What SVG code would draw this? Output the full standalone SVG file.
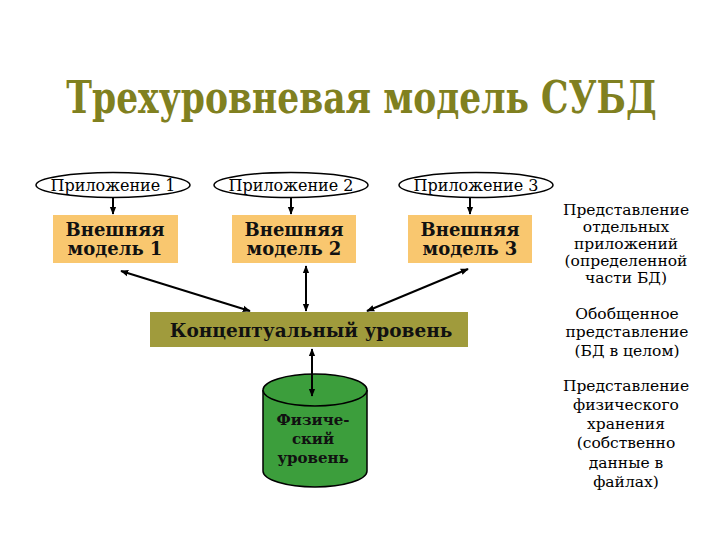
<svg xmlns="http://www.w3.org/2000/svg" width="720" height="540" viewBox="0 0 720 540">
<defs>
<marker id="ah" viewBox="0 0 10 10" refX="9" refY="5" markerWidth="4" markerHeight="4" orient="auto-start-reverse" markerUnits="strokeWidth">
<path d="M0,1 L10,5 L0,9 z" fill="#000"/>
</marker>
<style>
text{font-family:"DejaVu Serif","Noto Serif","Liberation Serif",serif}
.app{fill:#fff;stroke:#000;stroke-width:1.5}
.apptxt{font-size:16px;fill:#000;text-anchor:middle}
.ext{fill:#F9C76F}
.bold{font-weight:bold;fill:#111;text-anchor:middle}
.note{font-size:15.5px;fill:#000;text-anchor:middle}
.con line{stroke:#000;stroke-width:2}
</style>
</defs>
<rect width="720" height="540" fill="#fff"/>
<text transform="translate(361.5 113) scale(0.785 1)" x="0" y="0" font-weight="bold" font-size="44" fill="#808020" text-anchor="middle">Трехуровневая модель СУБД</text>

<g id="app1"><ellipse class="app" cx="113" cy="185" rx="77" ry="12.5"/><text class="apptxt" x="113" y="191">Приложение 1</text></g>
<g id="app2"><ellipse class="app" cx="291" cy="185" rx="77" ry="12.5"/><text class="apptxt" x="291" y="191">Приложение 2</text></g>
<g id="app3"><ellipse class="app" cx="476" cy="185" rx="77" ry="12.5"/><text class="apptxt" x="476" y="191">Приложение 3</text></g>

<g id="ext1"><rect class="ext" x="53" y="215" width="125" height="48"/><text class="bold" font-size="18" x="115" y="236">Внешняя</text><text class="bold" font-size="18" x="115" y="255">модель 1</text></g>
<g id="ext2"><rect class="ext" x="232" y="215" width="124" height="48"/><text class="bold" font-size="18" x="294" y="236">Внешняя</text><text class="bold" font-size="18" x="294" y="255">модель 2</text></g>
<g id="ext3"><rect class="ext" x="408" y="215" width="124" height="48"/><text class="bold" font-size="18" x="470" y="236">Внешняя</text><text class="bold" font-size="18" x="470" y="255">модель 3</text></g>

<g id="conceptual"><rect x="150" y="312" width="318" height="35" fill="#A09B3C"/><text class="bold" font-size="18.5" x="311" y="337">Концептуальный уровень</text></g>

<g id="physical">
<path d="M263,390 L263,471 A52,16 0 0 0 367,471 L367,390" fill="#3C9E3C" stroke="#000" stroke-width="1.5"/>
<ellipse cx="315" cy="390" rx="52" ry="16" fill="#3C9E3C" stroke="#000" stroke-width="1.5"/>
<text class="bold" font-size="15" x="313" y="425">Физиче-</text>
<text class="bold" font-size="15" x="313" y="444">ский</text>
<text class="bold" font-size="15" x="313" y="463">уровень</text>
</g>

<g id="connectors" class="con">
<line x1="113" y1="198" x2="113" y2="214" marker-end="url(#ah)"/>
<line x1="291" y1="198" x2="291" y2="214" marker-end="url(#ah)"/>
<line x1="470" y1="198" x2="470" y2="214" marker-end="url(#ah)"/>
<line x1="121" y1="271" x2="250" y2="311" marker-start="url(#ah)" marker-end="url(#ah)"/>
<line x1="306" y1="266" x2="306" y2="311" marker-start="url(#ah)" marker-end="url(#ah)"/>
<line x1="468" y1="269" x2="367" y2="311" marker-start="url(#ah)" marker-end="url(#ah)"/>
<line x1="312" y1="349" x2="312" y2="396" marker-start="url(#ah)" marker-end="url(#ah)"/>
</g>

<g id="notes">
<text class="note"><tspan x="626" y="215">Представление</tspan><tspan x="626" y="232">отдельных</tspan><tspan x="626" y="249">приложений</tspan><tspan x="626" y="266">(определенной</tspan><tspan x="626" y="283">части БД)</tspan></text>
<text class="note"><tspan x="627" y="319">Обобщенное</tspan><tspan x="627" y="337">представление</tspan><tspan x="627" y="356">(БД в целом)</tspan></text>
<text class="note"><tspan x="626" y="391">Представление</tspan><tspan x="626" y="410">физического</tspan><tspan x="626" y="429">хранения</tspan><tspan x="626" y="448">(собственно</tspan><tspan x="626" y="468">данные в</tspan><tspan x="626" y="487">файлах)</tspan></text>
</g>
</svg>
